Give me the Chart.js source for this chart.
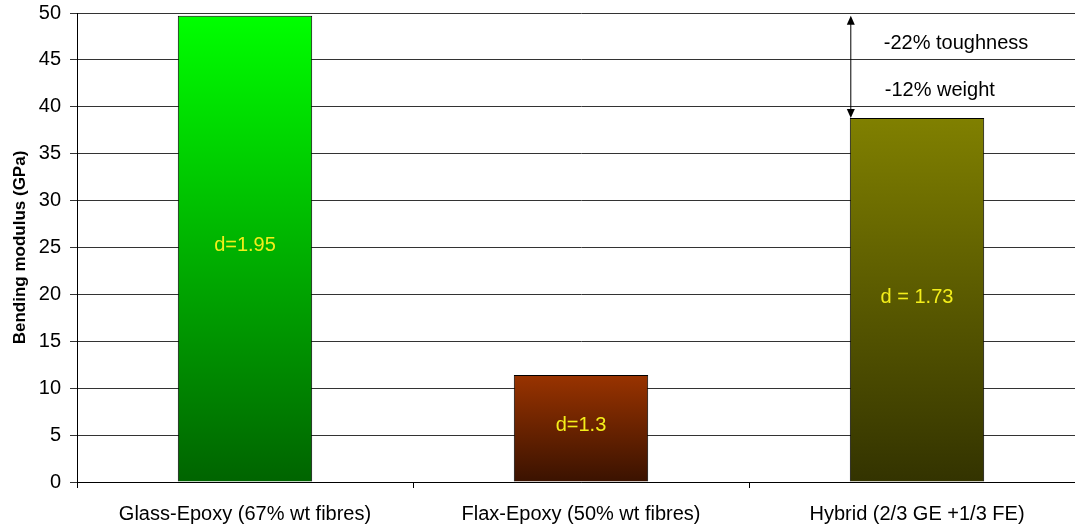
<!DOCTYPE html>
<html>
<head>
<meta charset="utf-8">
<script src="https://cdn.jsdelivr.net/npm/chart.js@4"></script>
<style>
  html, body { margin: 0; padding: 0; background: #fff; overflow: hidden; }
  #wrap { width: 1085px; height: 528px; position: relative; }
</style>
</head>
<body>
<div id="wrap"><canvas id="modulusChart"></canvas></div>
<script>
var categories = ['Glass-Epoxy (67% wt fibres)', 'Flax-Epoxy (50% wt fibres)', 'Hybrid (2/3 GE +1/3 FE)'];
var modulus = [49.7, 11.4, 38.8];
var densityLabels = ['d=1.95', 'd=1.3', 'd = 1.73'];
var yTicks = [0, 5, 10, 15, 20, 25, 30, 35, 40, 45, 50];
var notes = ['-22% toughness', '-12% weight'];

var barTop = ['#00ff00', '#993300', '#808000'];
var barBottom = ['#006400', '#3a1200', '#333300'];

function barGradient(context) {
    var chart = context.chart;
    var i = context.dataIndex;
    if (!chart.chartArea || !chart.scales.y) return barTop[i];
    var y = chart.scales.y;
    var g = chart.ctx.createLinearGradient(0, y.getPixelForValue(modulus[i]), 0, y.getPixelForValue(0));
    g.addColorStop(0, barTop[i]);
    g.addColorStop(1, barBottom[i]);
    return g;
}

var barText = {
    id: 'barText',
    afterDatasetsDraw: function (chart) {
        var ctx = chart.ctx;
        var meta = chart.getDatasetMeta(0);
        var y = chart.scales.y;
        ctx.save();
        ctx.font = '20px "Liberation Sans", Arial, sans-serif';
        ctx.fillStyle = '#f4ee1a';
        ctx.textAlign = 'center';
        ctx.textBaseline = 'middle';
        meta.data.forEach(function (bar, i) {
            var mid = y.getPixelForValue(modulus[i] / 2) - 3;
            ctx.fillText(densityLabels[i], bar.x, mid);
        });

        // double arrow between glass and hybrid tops
        var h = meta.data[2];
        var ax = h.x - h.width / 2 + 1;
        var y1 = y.getPixelForValue(modulus[0]);
        var y2 = y.getPixelForValue(modulus[2]);
        ctx.strokeStyle = '#000';
        ctx.fillStyle = '#000';
        ctx.lineWidth = 1;
        ctx.beginPath();
        ctx.moveTo(ax, y1 + 4);
        ctx.lineTo(ax, y2 - 4);
        ctx.stroke();
        ctx.beginPath();
        ctx.moveTo(ax, y1);
        ctx.lineTo(ax - 4, y1 + 9);
        ctx.lineTo(ax + 4, y1 + 9);
        ctx.closePath();
        ctx.fill();
        ctx.beginPath();
        ctx.moveTo(ax, y2);
        ctx.lineTo(ax - 4, y2 - 9);
        ctx.lineTo(ax + 4, y2 - 9);
        ctx.closePath();
        ctx.fill();

        ctx.font = '20px "Liberation Sans", Arial, sans-serif';
        ctx.textAlign = 'left';
        ctx.fillText(notes[0], ax + 33, y.getPixelForValue(46.8));
        ctx.fillText(notes[1], ax + 34, y.getPixelForValue(41.7));
        ctx.restore();
    }
};

var ctx = document.getElementById('modulusChart').getContext('2d');
var myChart = new Chart(ctx, {
    type: 'bar',
    data: {
        labels: categories,
        datasets: [{
            data: modulus,
            backgroundColor: barGradient,
            borderColor: '#000',
            borderWidth: 1,
            categoryPercentage: 1,
            barPercentage: 0.4
        }]
    },
    options: {
        responsive: true,
        maintainAspectRatio: false,
        animation: false,
        layout: { padding: { top: 13, right: 0, left: 0, bottom: 0 } },
        plugins: {
            legend: { display: false },
            tooltip: { enabled: false }
        },
        scales: {
            x: {
                grid: {
                    offset: true,
                    drawOnChartArea: false,
                    tickLength: 6,
                    color: '#000'
                },
                border: { color: '#000' },
                ticks: {
                    color: '#000',
                    padding: 14,
                    maxRotation: 0,
                    font: { family: '"Liberation Sans", Arial, sans-serif', size: 20 }
                },
                afterFit: function (scale) {
                    scale.height = 46;
                    scale.paddingTop = 0;
                }
            },
            y: {
                min: 0,
                max: 50,
                afterBuildTicks: function (scale) {
                    scale.ticks = yTicks.map(function (v) { return { value: v }; });
                },
                grid: { color: '#333', tickLength: 7 },
                border: { color: '#000' },
                ticks: {
                    color: '#000',
                    padding: 9,
                    font: { family: '"Liberation Sans", Arial, sans-serif', size: 20 }
                },
                title: {
                    display: true,
                    text: 'Bending modulus (GPa)',
                    color: '#000',
                    padding: { top: 10, bottom: 0 },
                    font: { family: '"Liberation Sans", Arial, sans-serif', size: 17, weight: 'bold' }
                },
                afterFit: function (scale) {
                    scale.width = 77;
                    scale.paddingTop = 0;
                    scale.paddingBottom = 0;
                }
            }
        }
    },
    plugins: [barText]
});
</script>
</body>
</html>
